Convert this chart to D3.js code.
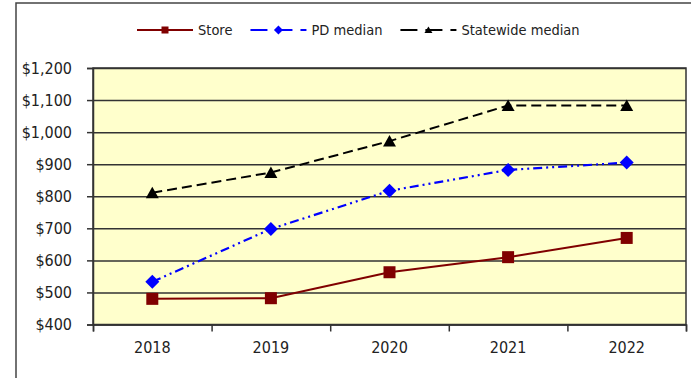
<!DOCTYPE html>
<html lang="en">
  <head>
    <meta charset="utf-8">
    <style>
      body { margin: 0; background: #fff; }
      svg { display: block; font-family: "DejaVu Sans Condensed", "DejaVu Sans", sans-serif; font-stretch: semi-condensed; }
      .axis text { fill: #222; font-size: 16px; }
      .legend text { fill: #222; font-size: 14.5px; }
    </style>
  </head>
  <body>
    <svg id="chart" width="691" height="378"></svg>

    <script src="https://cdn.jsdelivr.net/npm/d3@7"></script>
    <script>
      var years = ["2018", "2019", "2020", "2021", "2022"];
      var store = [480, 482, 563, 610, 670];
      var pdMedian = [533, 698, 817, 882, 905];
      var statewide = [811, 874, 972, 1083, 1083];
      var yTicks = [400, 500, 600, 700, 800, 900, 1000, 1100, 1200];

      var series = [
        { name: "Store", values: store, color: "#800000", dash: null, width: 2, marker: "square" },
        { name: "PD median", values: pdMedian, color: "#0000ff", dash: "9,4,2,4,2,4", width: 2.2, marker: "diamond" },
        { name: "Statewide median", values: statewide, color: "#000000", dash: "10,5", width: 2, marker: "triangle" }
      ];

      var plotLeft = 93, plotRight = 686, plotTop = 68, plotBottom = 324.5;
      var svg = d3.select("#chart");

      // outer frame (only top and left edges are visible in the crop)
      svg.append("path")
        .attr("d", "M16,378V3H691")
        .attr("fill", "none")
        .attr("stroke", "#444")
        .attr("stroke-width", 1.5);

      var x = d3.scaleBand().domain(years).range([plotLeft, plotRight]).padding(0);
      var xEdge = d3.scaleLinear().domain([0, years.length]).range([plotLeft, plotRight]);
      var y = d3.scaleLinear().domain([400, 1200]).range([plotBottom, plotTop]);

      svg.append("rect")
        .attr("x", plotLeft).attr("y", plotTop)
        .attr("width", plotRight - plotLeft).attr("height", plotBottom - plotTop)
        .attr("fill", "#ffffcc")
        .attr("stroke", "#333")
        .attr("stroke-width", 1.5);

      // gridlines
      svg.append("g")
        .attr("transform", "translate(" + plotLeft + ",0)")
        .call(d3.axisLeft(y).tickValues(yTicks).tickSize(-(plotRight - plotLeft)).tickFormat(""))
        .call(function(g) {
          g.select(".domain").remove();
          g.selectAll("line").attr("stroke", "#333").attr("stroke-width", 1.5);
        });

      // y axis
      svg.append("g")
        .attr("class", "axis")
        .attr("transform", "translate(" + plotLeft + ",0)")
        .call(d3.axisLeft(y).tickValues(yTicks).tickSize(6).tickPadding(15)
          .tickFormat(function(d) { return "$" + d3.format(",")(d); }))
        .call(function(g) {
          g.select(".domain").attr("stroke", "#333").attr("stroke-width", 1.5);
          g.selectAll("line").attr("stroke", "#333").attr("stroke-width", 1.5);
        });

      // x axis: tick marks at category edges, labels at centres
      svg.append("g")
        .attr("transform", "translate(0," + plotBottom + ")")
        .call(d3.axisBottom(xEdge).ticks(years.length).tickSize(7).tickFormat(""))
        .call(function(g) {
          g.select(".domain").attr("stroke", "#333").attr("stroke-width", 1.5);
          g.selectAll("line").attr("stroke", "#333").attr("stroke-width", 1.5);
        });

      svg.append("g")
        .attr("class", "axis")
        .attr("transform", "translate(0," + plotBottom + ")")
        .call(d3.axisBottom(x).tickSize(0).tickPadding(17))
        .call(function(g) {
          g.select(".domain").remove();
        });

      svg.selectAll(".axis").attr("font-size", null).attr("font-family", null);

      function drawMarker(g, type, cx, cy, size, color) {
        if (type === "square") {
          g.append("rect")
            .attr("x", cx - size / 2).attr("y", cy - size / 2)
            .attr("width", size).attr("height", size)
            .attr("fill", color);
        } else if (type === "diamond") {
          var h = size / 2 + 1;
          g.append("path")
            .attr("d", "M" + cx + "," + (cy - h) + "L" + (cx + h) + "," + cy + "L" + cx + "," + (cy + h) + "L" + (cx - h) + "," + cy + "Z")
            .attr("fill", color);
        } else {
          var s = size / 2;
          g.append("path")
            .attr("d", "M" + cx + "," + (cy - s) + "L" + (cx + s + 0.5) + "," + (cy + s - 0.5) + "L" + (cx - s - 0.5) + "," + (cy + s - 0.5) + "Z")
            .attr("fill", color);
        }
      }

      var line = d3.line()
        .x(function(d, i) { return x(years[i]) + x.bandwidth() / 2; })
        .y(function(d) { return y(d); });

      series.forEach(function(s) {
        var g = svg.append("g");
        g.append("path")
          .datum(s.values)
          .attr("d", line)
          .attr("fill", "none")
          .attr("stroke", s.color)
          .attr("stroke-width", s.width)
          .attr("stroke-dasharray", s.dash);
        s.values.forEach(function(v, i) {
          drawMarker(g, s.marker, x(years[i]) + x.bandwidth() / 2, y(v), 12, s.color);
        });
      });

      // legend
      var legend = svg.append("g").attr("class", "legend");
      var lx = 137, ly = 30;
      series.forEach(function(s) {
        var item = legend.append("g");
        item.append("line")
          .attr("x1", lx).attr("x2", lx + 56)
          .attr("y1", ly).attr("y2", ly)
          .attr("stroke", s.color)
          .attr("stroke-width", s.width)
          .attr("stroke-dasharray", s.dash ? "17,8" : null);
        drawMarker(item, s.marker, lx + 28, ly, 7, s.color);
        var t = item.append("text")
          .attr("x", lx + 61)
          .attr("y", ly)
          .attr("dy", "0.35em")
          .text(s.name);
        lx = lx + 61 + t.node().getComputedTextLength() + 18;
      });
    </script>
  </body>
</html>
